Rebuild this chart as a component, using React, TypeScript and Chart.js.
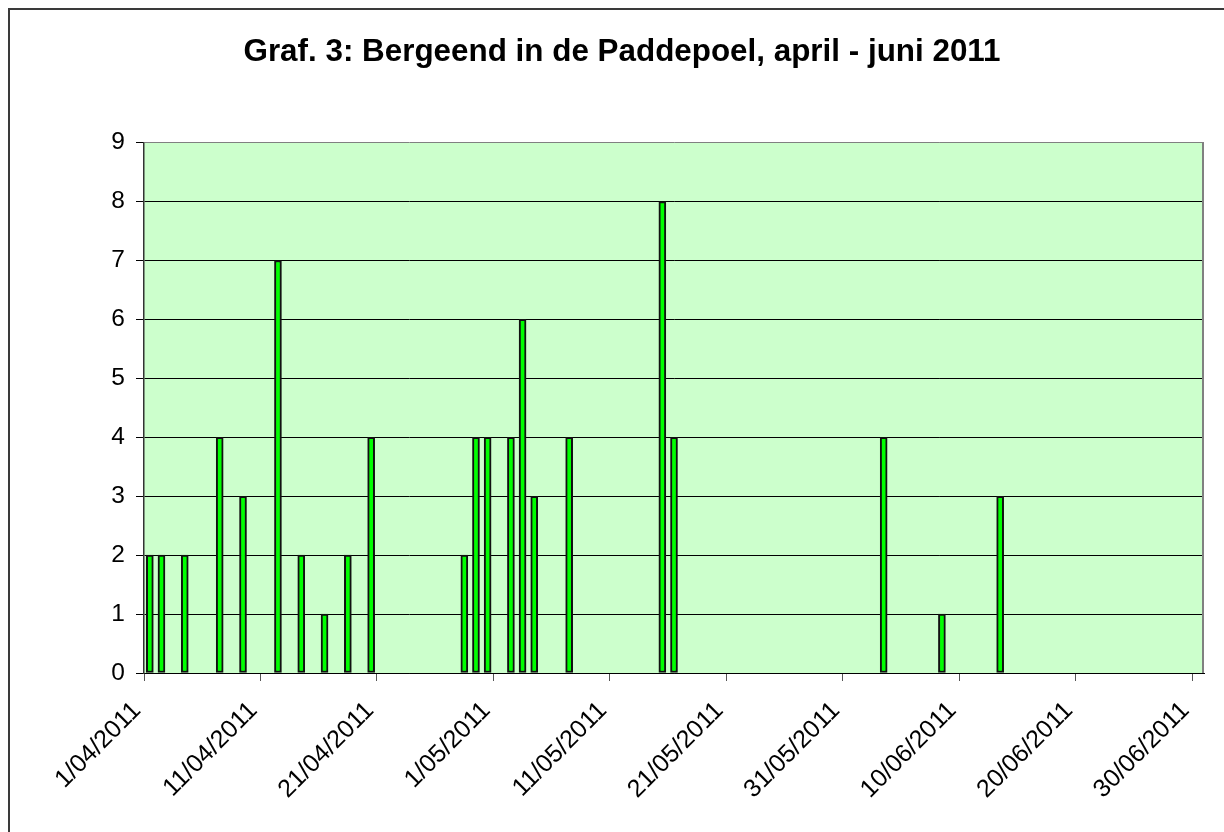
import React, { useEffect, useRef } from "react";
import { Chart, registerables } from "chart.js";

Chart.register(...registerables);

// ---- data ----
const chartTitle = "Graf. 3: Bergeend in de Paddepoel, april - juni 2011";
const periodStart = "2011-04-01";
const periodDays = 91;

const observationDates = [
  "2011-04-01", "2011-04-02", "2011-04-04", "2011-04-07", "2011-04-09",
  "2011-04-12", "2011-04-14", "2011-04-16", "2011-04-18", "2011-04-20",
  "2011-04-28", "2011-04-29", "2011-04-30", "2011-05-02", "2011-05-03",
  "2011-05-04", "2011-05-07", "2011-05-15", "2011-05-16", "2011-06-03",
  "2011-06-08", "2011-06-13",
];
const birdCounts = [
  2, 2, 2, 4, 3,
  7, 2, 1, 2, 4,
  2, 4, 4, 4, 6,
  3, 4, 8, 4, 4,
  1, 3,
];

const tickDays = [0, 10, 20, 30, 40, 50, 60, 70, 80, 90];
const tickLabels = [
  "1/04/2011", "11/04/2011", "21/04/2011", "1/05/2011", "11/05/2011",
  "21/05/2011", "31/05/2011", "10/06/2011", "20/06/2011", "30/06/2011",
];
const yMin = 0;
const yMax = 9;

const FONT = "'Liberation Sans', Arial, sans-serif";

function dayIndex(iso: string): number {
  const [y, m, d] = iso.split("-").map(Number);
  const [y0, m0, d0] = periodStart.split("-").map(Number);
  return Math.round((Date.UTC(y, m - 1, d) - Date.UTC(y0, m0 - 1, d0)) / 86400000);
}

const plotBackground = {
  id: "plotBackground",
  beforeDraw(chart: any) {
    const { ctx, chartArea } = chart;
    const { left, top, width, height } = chartArea;
    ctx.save();
    ctx.fillStyle = "#CCFFCC";
    ctx.fillRect(left, top, width, height);
    ctx.restore();
  },
  afterDraw(chart: any) {
    const { ctx, chartArea } = chart;
    ctx.save();
    ctx.strokeStyle = "#808080";
    ctx.lineWidth = 2;
    ctx.beginPath();
    ctx.moveTo(chartArea.right - 1, chartArea.top);
    ctx.lineTo(chartArea.right - 1, chartArea.bottom);
    ctx.stroke();
    ctx.restore();
  },
};

const CANVAS_W = 1224;
const CANVAS_H = 830;

export default function App() {
  const canvasRef = useRef<HTMLCanvasElement | null>(null);

  useEffect(() => {
    if (!canvasRef.current) return;
    const points = observationDates.map((d, i) => ({ x: dayIndex(d) + 0.5, y: birdCounts[i] }));
    const chart = new Chart(canvasRef.current, {
      type: "bar",
      data: {
        datasets: [
          {
            label: "Bergeend",
            data: points as any,
            backgroundColor: "#00FF00",
            borderColor: "#111111",
            borderWidth: 2,
            borderSkipped: false,
            barThickness: 7,
          },
        ],
      },
      plugins: [plotBackground],
      options: {
        responsive: false,
        animation: false,
        devicePixelRatio: 1,
        layout: { padding: 0 },
        plugins: {
          legend: { display: false },
          tooltip: { enabled: false },
          title: {
            display: true,
            text: chartTitle,
            color: "#000",
            font: { family: FONT, size: 31.4, weight: "bold" },
            padding: { top: 24, bottom: 71 },
          },
        },
        scales: {
          x: {
            type: "linear",
            min: 0,
            max: periodDays,
            offset: false,
            afterBuildTicks: (scale: any) => {
              scale.ticks = tickDays.map((v) => ({ value: v }));
            },
            afterFit: (scale: any) => {
              scale.height = 167;
            },
            ticks: {
              autoSkip: false,
              maxRotation: 45,
              minRotation: 45,
              padding: 15,
              labelOffset: -7,
              color: "#000",
              font: { family: FONT, size: 25 },
              callback: (value: any) => {
                const i = tickDays.indexOf(Number(value));
                return i >= 0 ? tickLabels[i] : "";
              },
            },
            grid: {
              offset: false,
              drawOnChartArea: false,
              drawTicks: true,
              tickLength: 8,
              tickColor: "#555555",
              lineWidth: 1,
            },
            border: { display: true, color: "#000", width: 1 },
          },
          y: {
            min: yMin,
            max: yMax,
            afterFit: (scale: any) => {
              scale.width = 134;
            },
            ticks: {
              stepSize: 1,
              padding: 11,
              color: "#000",
              font: { family: FONT, size: 24.5 },
            },
            grid: {
              color: (c: any) => (c.tick && c.tick.value === yMax ? "#808080" : "#000000"),
              tickColor: "#000000",
              lineWidth: 1,
              tickLength: 8,
            },
            border: { display: true, color: "#333333", width: 1.5 },
          },
          yRightSpace: {
            position: "right",
            display: true,
            min: 0,
            max: 1,
            afterFit: (scale: any) => {
              scale.width = 30;
            },
            ticks: { display: false },
            grid: { display: false, drawTicks: false },
            border: { display: false },
          },
        },
      },
    });
    return () => chart.destroy();
  }, []);

  return (
    <div
      style={{
        position: "fixed",
        left: 0,
        top: 0,
        width: 1224,
        height: 832,
        overflow: "hidden",
        background: "#fff",
      }}
    >
      <div
        style={{
          position: "absolute",
          left: 8,
          top: 8,
          border: "2px solid #3a3a3a",
          width: CANVAS_W,
          height: CANVAS_H,
          background: "#fff",
        }}
      >
        <canvas
          ref={canvasRef}
          width={CANVAS_W}
          height={CANVAS_H}
          style={{ display: "block", width: CANVAS_W, height: CANVAS_H }}
        />
      </div>
    </div>
  );
}
